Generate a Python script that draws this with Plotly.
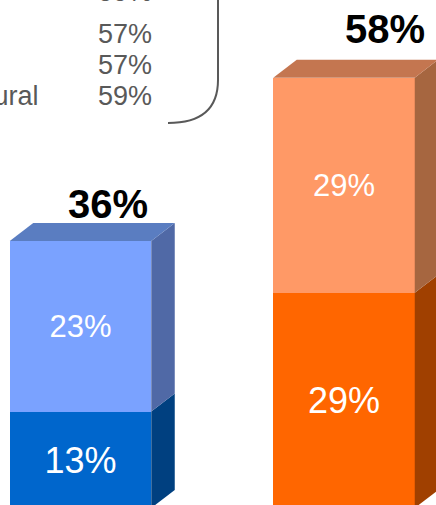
import plotly.graph_objects as go

# ---- data ----
groups = ["Group 1", "Group 2"]
base_share = [13, 29]      # lower segment of each stacked column
upper_share = [23, 29]     # upper segment of each stacked column
totals = [36, 58]

side_labels = ["59%", "57%", "57%", "59%"]
side_names = ["", "", "", "Rural"]

# ---- styling ----
W, H = 436, 505
FONT = "Liberation Sans, Arial, sans-serif"
front_low = ["#0066CC", "#FF6600"]
front_high = ["#7AA2FF", "#FF9966"]
side_low = ["#004080", "#A04000"]
side_high = ["#5069A6", "#A66640"]
top_face = ["#5A7DC1", "#C47650"]

# axis geometry (pixel mapping of the plotting area)
PX_PER_UNIT_X = 263.5
X0_PX = 80.5
PX_PER_PCT = 7.42
BASE_PX = 508.0
x_range = [-X0_PX / PX_PER_UNIT_X, (W - X0_PX) / PX_PER_UNIT_X]
y_range = [(BASE_PX - H) / PX_PER_PCT, BASE_PX / PX_PER_PCT]

bar_w = 141.5 / PX_PER_UNIT_X
dx = 23.5 / PX_PER_UNIT_X
dy = 18.0 / PX_PER_PCT

def px_x(px):
    return (px - X0_PX) / PX_PER_UNIT_X

def px_y(py):
    return (BASE_PX - py) / PX_PER_PCT

xs = list(range(len(groups)))

fig = go.Figure()

fig.add_trace(go.Bar(
    x=xs, y=base_share, width=bar_w,
    marker=dict(color=front_low, line=dict(width=0)),
    text=[f"{v}%" for v in base_share], textposition="inside",
    insidetextanchor="middle", constraintext="none",
    textfont=dict(family=FONT, size=36, color="white"),
    hoverinfo="skip",
))
fig.add_trace(go.Bar(
    x=xs, y=upper_share, width=bar_w,
    marker=dict(color=front_high, line=dict(width=0)),
    text=[f"{v}%" for v in upper_share], textposition="inside",
    insidetextanchor="middle", constraintext="none",
    textfont=dict(family=FONT, size=31, color="white"),
    hoverinfo="skip",
))

# depth faces of each column
def poly(xs_, ys_, color):
    fig.add_trace(go.Scatter(
        x=xs_ + [xs_[0]], y=ys_ + [ys_[0]], mode="lines",
        fill="toself", fillcolor=color, line=dict(width=0, color=color),
        hoverinfo="skip", showlegend=False,
    ))

for i, x in enumerate(xs):
    xl, xr = x - bar_w / 2, x + bar_w / 2
    lo, hi = base_share[i], base_share[i] + upper_share[i]
    poly([xr, xr + dx, xr + dx, xr], [0, dy, lo + dy, lo], side_low[i])
    poly([xr, xr + dx, xr + dx, xr], [lo, lo + dy, hi + dy, hi], side_high[i])
    poly([xl, xl + dx, xr + dx, xr], [hi, hi + dy, hi + dy, hi], top_face[i])

# totals above the columns
total_dx = [27 / PX_PER_UNIT_X, 40.5 / PX_PER_UNIT_X]
total_dy = [5.0, 6.6]
for i, x in enumerate(xs):
    fig.add_annotation(
        x=x + total_dx[i], y=totals[i] + total_dy[i], xref="x", yref="y",
        text=f"<b>{totals[i]}%</b>", showarrow=False,
        font=dict(family=FONT, size=40, color="black"),
        xanchor="center", yanchor="middle",
    )

# side list of percentages with bracket (placed in paper space)
row_px = [-8, 34, 65, 96]
for lab, name, py in zip(side_labels, side_names, row_px):
    fig.add_annotation(
        x=153.5 / W, y=1 - py / H, xref="paper", yref="paper", text=lab,
        showarrow=False, xanchor="right", yanchor="middle",
        font=dict(family=FONT, size=27, color="#595959"),
    )
    if name:
        fig.add_annotation(
            x=41 / W, y=1 - py / H, xref="paper", yref="paper", text=name,
            showarrow=False, xanchor="right", yanchor="middle",
            font=dict(family=FONT, size=27, color="#595959"),
        )

bx, by_top, by_bend, ex, ey = 218, -10, 80, 168, 123
fig.add_shape(
    type="path", xref="x", yref="y",
    path=(f"M {px_x(bx)} {px_y(by_top)} L {px_x(bx)} {px_y(by_bend)} "
          f"Q {px_x(bx)} {px_y(ey)} {px_x(ex)} {px_y(ey)}"),
    line=dict(color="#595959", width=2),
)

fig.update_layout(
    width=W, height=H, margin=dict(l=0, r=0, t=0, b=0),
    barmode="stack", bargap=0, showlegend=False,
    plot_bgcolor="white", paper_bgcolor="white",
    xaxis=dict(range=x_range, visible=False, fixedrange=True),
    yaxis=dict(range=y_range, visible=False, fixedrange=True),
)

fig.write_html("out.html")
